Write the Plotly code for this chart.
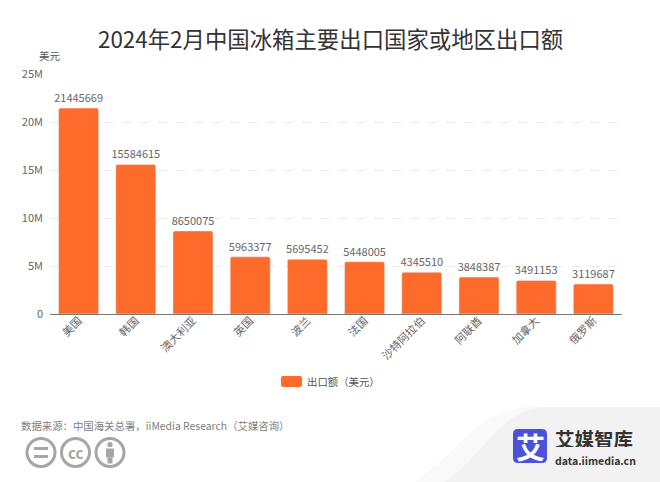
import plotly.graph_objects as go

FONT = "Noto Sans CJK SC"

# data
countries = ["美国", "韩国", "澳大利亚", "英国", "波兰", "法国", "沙特阿拉伯", "阿联酋", "加拿大", "俄罗斯"]
export_usd = [21445669, 15584615, 8650075, 5963377, 5695452, 5448005, 4345510, 3848387, 3491153, 3119687]
y_ticks = [0, 5000000, 10000000, 15000000, 20000000, 25000000]
y_tick_labels = ["0", "5M", "10M", "15M", "20M", "25M"]

W, H = 660, 482
L, R, T, B = 50, 622, 74, 314  # plot area in pixels


# paper coords are relative to the plot area, so map from picture pixels
def px(x):
    return (x - L) / (R - L)


def py(y):
    return (B - y) / (B - T)


def text(x, y, s, size, color="#666666", anchor="left", **kw):
    return dict(xref="paper", yref="paper", x=px(x), y=py(y), text=s, showarrow=False,
                xanchor=anchor, yanchor="middle", font=dict(family=FONT, size=size, color=color), **kw)


def circle(cx, cy, r, **kw):
    return dict(type="circle", xref="paper", yref="paper", x0=px(cx - r), x1=px(cx + r),
                y0=py(cy + r), y1=py(cy - r), **kw)


def box(x0, y0, x1, y1, color):
    return dict(type="rect", xref="paper", yref="paper", x0=px(x0), x1=px(x1), y0=py(y1), y1=py(y0),
                fillcolor=color, line_width=0)


def swoosh(x_start, x_top, color):
    path = "M %f,%f C %f,%f %f,%f %f,%f L %f,%f L %f,%f Z" % (
        px(x_start), py(482), px(x_start + 45), py(450), px(x_top - 50), py(407), px(x_top), py(407),
        px(660), py(407), px(660), py(482))
    return dict(type="path", path=path, xref="paper", yref="paper", fillcolor=color, line_width=0, layer="below")


def round_rect(x0, y0, x1, y1, r, color):
    path = "M %f,%f L %f,%f Q %f,%f %f,%f L %f,%f Q %f,%f %f,%f L %f,%f Q %f,%f %f,%f L %f,%f Q %f,%f %f,%f Z" % (
        px(x0 + r), py(y0), px(x1 - r), py(y0), px(x1), py(y0), px(x1), py(y0 + r),
        px(x1), py(y1 - r), px(x1), py(y1), px(x1 - r), py(y1),
        px(x0 + r), py(y1), px(x0), py(y1), px(x0), py(y1 - r),
        px(x0), py(y0 + r), px(x0), py(y0), px(x0 + r), py(y0))
    return dict(type="path", path=path, xref="paper", yref="paper", fillcolor=color, line_width=0)


fig = go.Figure(go.Bar(
    x=countries, y=export_usd, name="出口额（美元）",
    marker=dict(color="#ff6b2b", cornerradius=2),
    text=export_usd, texttemplate="%{text}", textposition="outside", cliponaxis=False,
    constraintext="none",
    textfont=dict(family=FONT, size=11, color="#666666"),
    showlegend=False,
))

ICON = "#a6a6a6"
shapes = [
    # grey swoosh behind the logo, fades out to the left
    swoosh(415, 530, "#f9f9f9"),
    swoosh(445, 550, "#f2f2f3"),
    # legend swatch
    round_rect(281, 376, 302, 387, 2, "#ff6b2b"),
    # logo square
    round_rect(513, 429, 547, 463, 5, "#4c51dc"),
    # cc icons
    circle(41, 452.5, 14, line=dict(color=ICON, width=3), fillcolor="white"),
    circle(75.5, 452.5, 14, line=dict(color=ICON, width=3), fillcolor="white"),
    circle(110, 452.5, 14, line=dict(color=ICON, width=3), fillcolor="white"),
    box(34, 447, 48, 450, ICON),
    box(34, 455, 48, 458, ICON),
    circle(110, 444.5, 2.6, fillcolor=ICON, line_width=0),
    box(106, 448.5, 114, 457.5, ICON),
    box(107.5, 457.5, 112.5, 463.5, ICON),
]

annotations = [
    text(330, 38.5, "2024年2月中国冰箱主要出口国家或地区出口额", 22.4, "#333333", "center"),
    text(50, 55, "美元", 10.5, "#555555", "center"),
    text(305, 381, "出口额（美元）", 10.4, "#555555"),
    text(19, 425, "数据来源：中国海关总署，iiMedia Research（艾媒咨询）", 10.4, "#808080"),
    text(75.5, 452, "<b>cc</b>", 15, ICON, "center"),
    text(530, 446, "<b>艾</b>", 29, "white", "center"),
    text(553, 438, "<b>艾媒智库</b>", 19.5, "#333333", height=18),
    text(553, 460, "<b>data.iimedia.cn</b>", 10.5, "#333333", height=11),
]

fig.update_layout(
    width=W, height=H,
    margin=dict(l=L, r=W - R, t=T, b=H - B, pad=0),
    paper_bgcolor="white", plot_bgcolor="white",
    bargap=0.3,
    font=dict(family=FONT, size=11, color="#666666"),
    shapes=shapes, annotations=annotations,
    xaxis=dict(tickangle=-45, showline=True, linecolor="#777777", linewidth=1, ticks="",
               ticklabelstandoff=-5,
               tickfont=dict(family=FONT, size=11, color="#666666"), fixedrange=True),
    yaxis=dict(range=[0, 25000000], tickvals=y_ticks, ticktext=y_tick_labels, griddash="dash",
               gridcolor="#ebebeb", gridwidth=1, zeroline=False, ticks="", ticklen=0,
               ticklabelstandoff=6,
               tickfont=dict(family=FONT, size=11, color="#666666"), fixedrange=True),
)

fig.write_html("out.html", config=dict(displayModeBar=False),
               post_script="document.body.style.margin='0';")
